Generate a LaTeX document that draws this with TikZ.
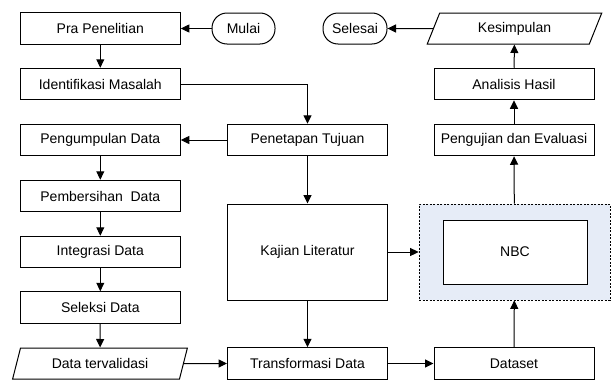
\documentclass[tikz,border=0pt]{standalone}
\usepackage{fontspec}
\setmainfont{Liberation Sans}
\usetikzlibrary{arrows.meta, shapes.geometric}
\definecolor{nbcfill}{RGB}{230,236,247}
\tikzset{%
    proc/.style={rectangle, draw, line width=1pt, minimum width=160pt, minimum height=31.5pt, inner sep=0pt},
    term/.style={rectangle, draw, line width=1pt, rounded corners=15pt, minimum height=31pt, inner sep=0pt},
    io/.style={trapezium, draw, line width=1pt, trapezium stretches=true, trapezium left angle=65, trapezium right angle=115, minimum width=175pt, minimum height=31pt, inner sep=0pt},
    grp/.style={rectangle, draw, line width=0.7pt, dash pattern=on 2pt off 1.5pt, fill=nbcfill, minimum width=191pt, minimum height=96pt},
    arr/.style={line width=1pt, -{Triangle[length=8.5pt, width=8pt]}},
}

\begin{document}
\begin{tikzpicture}[x=1pt, y=-1pt, font=\fontsize{14}{16}\selectfont]
    \useasboundingbox (0,0) rectangle (615,380);
    \node [proc] (pra) at (100.3,28.5) {Pra Penelitian};
    \node [term, minimum width=63pt] (mulai) at (243.5,28.5) {Mulai};
    \node [proc] (ident) at (100.3,84) {Identifikasi Masalah};
    \node [proc] (kumpul) at (100.3,140) {Pengumpulan Data};
    \node [proc] (bersih) at (100.3,196) {Pembersihan~ Data};
    \node [proc] (integ) at (100.3,252) {Integrasi Data};
    \node [proc] (seleksi) at (100.3,307.5) {Seleksi Data};
    \node [io] (valid) at (100,363.5) {Data tervalidasi};
    \node [proc] (tujuan) at (307.5,140) {Penetapan Tujuan};
    \node [proc, minimum height=96pt] (kajian) at (307.5,252) {Kajian Literatur};
    \node [proc] (transf) at (307.5,363.5) {Transformasi Data};
    \node [term, minimum width=64pt] (selesai) at (355,28.5) {Selesai};
    \node [io] (simpul) at (514.5,28.5) {Kesimpulan};
    \node [proc] (analisis) at (514,84) {Analisis Hasil};
    \node [proc] (uji) at (514,140) {Pengujian dan Evaluasi};
    \node [grp] (nbcgrp) at (514.5,252) {};
    \node [proc, minimum width=144pt, minimum height=64pt, fill=white] (nbc) at (515,252) {NBC};
    \node [proc] (dataset) at (514,363.5) {Dataset};
    \draw [arr] (mulai) -- (pra);
    \draw [arr] (pra) -- (ident);
    \draw [arr] (ident.east) -| (tujuan.north);
    \draw [arr] (tujuan) -- (kumpul);
    \draw [arr] (kumpul) -- (bersih);
    \draw [arr] (bersih) -- (integ);
    \draw [arr] (integ) -- (seleksi);
    \draw [arr] (seleksi) -- (valid);
    \draw [arr] (valid.east) -- (transf.west);
    \draw [arr] (tujuan) -- (kajian);
    \draw [arr] (kajian) -- (transf);
    \draw [arr] (kajian) -- (nbcgrp);
    \draw [arr] (transf) -- (dataset);
    \draw [arr] (dataset) -- (nbcgrp);
    \draw [arr] (nbcgrp) -- (uji);
    \draw [arr] (uji) -- (analisis);
    \draw [arr] (analisis) -- (simpul);
    \draw [arr] (simpul) -- (selesai);
\end{tikzpicture}
\end{document}
